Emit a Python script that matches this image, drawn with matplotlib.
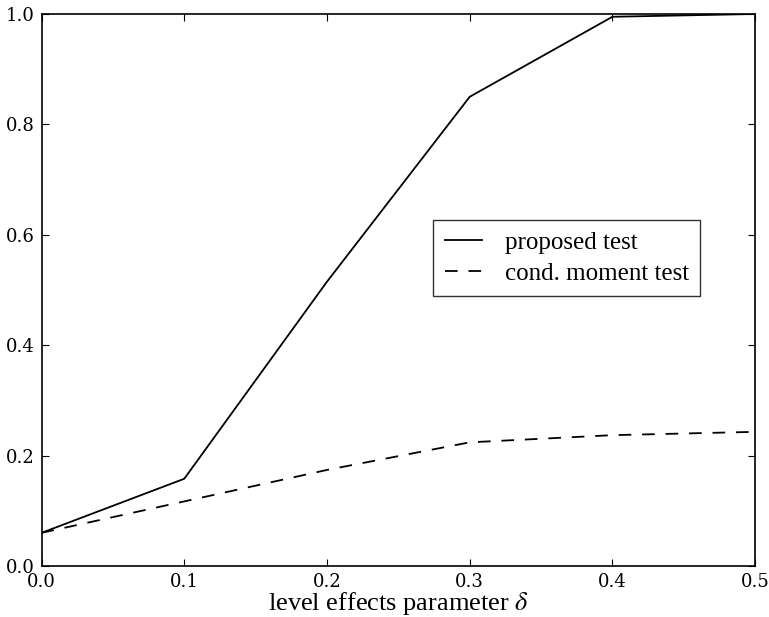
import matplotlib
matplotlib.use("Agg")
import matplotlib.pyplot as plt

x = [0.0, 0.1, 0.2, 0.3, 0.4, 0.5]
proposed = [0.060, 0.158, 0.515, 0.850, 0.995, 1.000]
cond_moment = [0.060, 0.117, 0.174, 0.224, 0.237, 0.243]
xticks = [0.0, 0.1, 0.2, 0.3, 0.4, 0.5]
yticks = [0.0, 0.2, 0.4, 0.6, 0.8, 1.0]

plt.rcParams['mathtext.fontset'] = 'stix'

fig = plt.figure(figsize=(7.69, 6.17), dpi=100)
ax = fig.add_axes([0.054, 0.0827, 0.928, 0.8946])

ax.plot(x, proposed, color='black', linestyle='-', linewidth=1.3, label='proposed test')
ax.plot(x, cond_moment, color='black', linestyle=(0, (7, 6)), linewidth=1.3, label='cond. moment test')

ax.set_xlim(0, 0.5)
ax.set_ylim(0, 1.0)
ax.set_xticks(xticks)
ax.set_yticks(yticks)
ax.set_xticklabels([f"{v:.1f}" for v in xticks], family='DejaVu Serif', fontsize=13)
ax.set_yticklabels([f"{v:.1f}" for v in yticks], family='DejaVu Serif', fontsize=13)
ax.tick_params(direction='in', top=True, right=True, length=5, width=0.8, pad=5)
for s in ax.spines.values():
    s.set_linewidth(1.2)

ax.set_xlabel(r"level effects parameter $\delta$", family='Liberation Serif', fontsize=19, labelpad=-1)

leg = ax.legend(loc='upper left', bbox_to_anchor=(0.549, 0.627), borderaxespad=0, frameon=True, fancybox=False,
                edgecolor='black', prop={'family': 'Liberation Serif', 'size': 18},
                handlelength=1.5, handletextpad=0.9, borderpad=0.45, labelspacing=0.35)
leg.get_frame().set_linewidth(1.0)

fig.savefig("out.png", dpi=100)
